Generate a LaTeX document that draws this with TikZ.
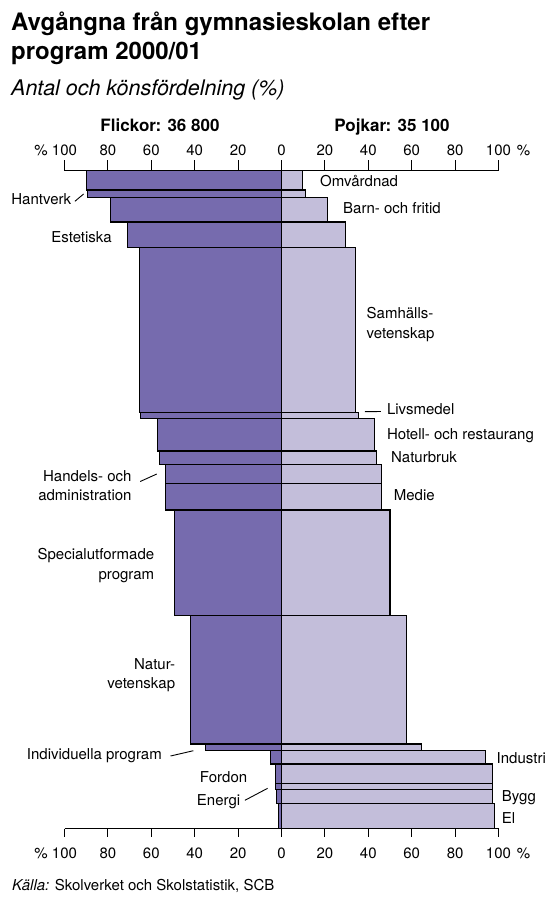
\documentclass[tikz,border=0pt]{standalone}
\usepackage{fontspec}
\setmainfont{TeX Gyre Heros}
\definecolor{girls}{RGB}{118,107,174}
\definecolor{boys}{RGB}{195,190,218}
\begin{document}
\begin{tikzpicture}[x=1pt,y=-1pt,
  bar/.style={draw=black,line width=1.1pt},
  lbl/.style={font=\fontsize{15}{18}\selectfont,inner sep=0pt,text height=10.8pt,text depth=0pt},
  tick/.style={line width=1.1pt},
  leader/.style={line width=0.9pt},
  head/.style={font=\fontsize{17}{20}\selectfont\bfseries,inner sep=0pt,text height=12.2pt,text depth=0pt},
  title/.style={font=\fontsize{24}{28}\selectfont\bfseries,inner sep=0pt,text height=17.2pt,text depth=0pt,anchor=west},
]
\useasboundingbox (0,0) rectangle (545,899);

% title block
\node[title] (t1) at (11,22) {Avgångna från gymnasieskolan efter};
\node[title] (t2) at (11,51) {program 2000/01};
\node[font=\fontsize{21.5}{25}\selectfont\itshape,inner sep=0pt,text height=15.4pt,text depth=0pt,anchor=west] (sub) at (11,88) {Antal och könsfördelning (\%)};

% column heads
\node[head] (hf) at (160,125) {Flickor: 36 800};
\node[head] (hp) at (392,125) {Pojkar: 35 100};

% bars: top, bottom, girls %, boys %
\foreach \t/\b/\l/\r in {
  170.7/190/90/9.8, 190/197.3/89.4/10.9, 197.3/222/78.9/21.3,
  222/247.7/70.9/29.6, 247.7/412.3/65.6/34.1, 412.3/418.7/64.8/35.4,
  418.7/451/57/42.9, 451/464.3/56.2/43.6, 464.3/483.3/53.3/46,
  483.3/510/53.6/46, 510/615.3/49.4/50, 615.3/744/41.9/57.6,
  744/750.3/35/64.4, 750.3/764/5.2/94, 764/783.3/2.6/97.1,
  783.3/789.3/2.7/97.1, 789.3/803.3/2.3/97.4, 803.3/828.7/1.5/98.1}{
  \draw[bar,fill=girls] ({281.5-2.17*\l},\t) rectangle (281.5,\b);
  \draw[bar,fill=boys] (281.5,\t) rectangle ({281.5+2.17*\r},\b);
}

% axes
\coordinate (tl) at (64.5,170.7);
\coordinate (tr) at (498.5,170.7);
\coordinate (bl) at (64.5,828.7);
\coordinate (br) at (498.5,828.7);
\draw[tick] (tl) -- (tr);
\draw[tick] (bl) -- (br);
\foreach \i/\v in {-5/100,-4/80,-3/60,-2/40,-1/20,0/0,1/20,2/40,3/60,4/80,5/100}{
  \draw[tick] ({281.5+43.4*\i},170.7) -- ++(0,-10.5);
  \draw[tick] ({281.5+43.4*\i},828.7) -- ++(0,8.5);
  \node[lbl] (tt\i) at ({281.5+43.4*\i},150) {\v};
  \node[lbl] (bt\i) at ({281.5+43.4*\i},852.7) {\v};
}
\node[lbl] (pt1) at (41,150) {\%};
\node[lbl] (pt2) at (523.5,150) {\%};
\node[lbl] (pb1) at (41,852.7) {\%};
\node[lbl] (pb2) at (523.5,852.7) {\%};

% labels right of the bars
\node[lbl,anchor=west] (omv) at (320,180.7) {Omvårdnad};
\node[lbl,anchor=west] (barn) at (343,208.3) {Barn- och fritid};
\node[lbl,anchor=west] (sam1) at (366.5,313.3) {Samhälls-};
\node[lbl,anchor=west] (sam2) at (366.5,332.7) {vetenskap};
\node[lbl,anchor=west] (liv) at (386.8,409) {Livsmedel};
\node[lbl,anchor=west] (hot) at (386.8,434.3) {Hotell- och restaurang};
\node[lbl,anchor=west] (nbr) at (391,456.7) {Naturbruk};
\node[lbl,anchor=west] (med) at (393.7,495) {Medie};
\node[lbl,anchor=west] (ind) at (496.5,758.3) {Industri};
\node[lbl,anchor=west] (byg) at (501.7,795.7) {Bygg};
\node[lbl,anchor=west] (el) at (501.7,818.3) {El};

% labels left of the bars
\node[lbl,anchor=east] (han) at (71.4,199.3) {Hantverk};
\node[lbl,anchor=east] (est) at (112,236.7) {Estetiska};
\node[lbl,anchor=east] (hd1) at (131.7,476) {Handels- och};
\node[lbl,anchor=east] (hd2) at (131.7,495) {administration};
\node[lbl,anchor=east] (sp1) at (154.4,554.3) {Specialutformade};
\node[lbl,anchor=east] (sp2) at (154.4,574) {program};
\node[lbl,anchor=east] (nv1) at (175.3,664.3) {Natur-};
\node[lbl,anchor=east] (nv2) at (175.3,683.3) {vetenskap};
\node[lbl,anchor=east] (ivp) at (162,754) {Individuella program};
\node[lbl,anchor=east] (ford) at (247.4,776.7) {Fordon};
\node[lbl,anchor=east] (ene) at (240.4,800.3) {Energi};

% leader lines
\coordinate (hanE) at (83.6,194);
\coordinate (livE) at (364.8,411.7);
\coordinate (hdE) at (156.8,474);
\coordinate (ivpE) at (193.4,750.7);
\coordinate (eneE) at (267.6,788.3);
\draw[leader] ([xshift=3.5pt,yshift=-2pt]han.east) -- (hanE);
\draw[leader] ([xshift=-6pt,yshift=-2.5pt]liv.west) -- (livE);
\draw[leader] ([xshift=8.5pt,yshift=-5.5pt]hd1.east) -- (hdE);
\draw[leader] ([xshift=8.5pt,yshift=-2pt]ivp.east) -- (ivpE);
\draw[leader] ([xshift=4.5pt,yshift=0pt]ene.east) -- (eneE);

% source line
\node[lbl,anchor=west] (src) at (12,885) {\textit{Källa:} Skolverket och Skolstatistik, SCB};
\end{tikzpicture}
\end{document}
